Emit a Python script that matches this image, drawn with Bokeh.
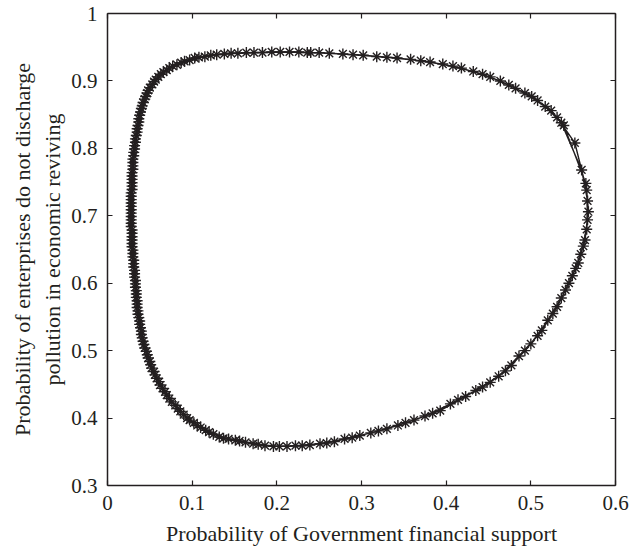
from bokeh.plotting import figure
from bokeh.models import Range1d, FixedTicker, LinearAxis, CustomJSTickFormatter
from bokeh.embed import file_html
from bokeh.resources import INLINE

# Trajectory of the two-player evolutionary game, three successive cycles
# x: probability of government financial support
# y: probability that enterprises do not discharge pollution
cycle1_gov = [0.250, 0.290, 0.330, 0.370, 0.408, 0.443, 0.474, 0.501, 0.524, 0.539,
              0.565, 0.568, 0.564, 0.556, 0.545, 0.531, 0.513, 0.493, 0.470, 0.443,
              0.414, 0.384, 0.352, 0.320, 0.289, 0.259, 0.230, 0.203, 0.178, 0.156,
              0.137, 0.120, 0.106, 0.094, 0.083, 0.073, 0.065, 0.058, 0.052, 0.048,
              0.044, 0.041, 0.039, 0.037, 0.035, 0.034, 0.033, 0.032, 0.031, 0.030,
              0.029, 0.029, 0.028, 0.028, 0.028, 0.028, 0.029, 0.029, 0.030, 0.031,
              0.032, 0.034, 0.036, 0.038, 0.041, 0.045, 0.050, 0.057, 0.066, 0.077,
              0.091, 0.108, 0.129, 0.154, 0.183, 0.215]
cycle1_ent = [0.942, 0.939, 0.935, 0.930, 0.922, 0.910, 0.894, 0.877, 0.856, 0.834,
              0.748, 0.706, 0.664, 0.630, 0.600, 0.565, 0.530, 0.500, 0.470, 0.446,
              0.427, 0.407, 0.393, 0.381, 0.371, 0.363, 0.359, 0.358, 0.361, 0.366,
              0.370, 0.379, 0.389, 0.400, 0.414, 0.429, 0.444, 0.459, 0.474, 0.489,
              0.504, 0.519, 0.534, 0.549, 0.564, 0.579, 0.594, 0.609, 0.624, 0.639,
              0.654, 0.669, 0.684, 0.699, 0.714, 0.729, 0.744, 0.759, 0.774, 0.789,
              0.804, 0.819, 0.834, 0.849, 0.863, 0.877, 0.890, 0.902, 0.913, 0.922,
              0.929, 0.935, 0.939, 0.941, 0.942, 0.943]

cycle2_gov = [0.262, 0.302, 0.342, 0.381, 0.418, 0.452, 0.482, 0.508, 0.531, 0.552,
              0.566, 0.567, 0.562, 0.553, 0.541, 0.526, 0.508, 0.486, 0.462, 0.435,
              0.405, 0.375, 0.343, 0.311, 0.280, 0.251, 0.222, 0.196, 0.172, 0.151,
              0.132, 0.116, 0.102, 0.090, 0.080, 0.070, 0.062, 0.056, 0.051, 0.047,
              0.043, 0.040, 0.038, 0.036, 0.035, 0.034, 0.033, 0.032, 0.031, 0.030,
              0.029, 0.029, 0.028, 0.028, 0.028, 0.028, 0.029, 0.029, 0.030, 0.031,
              0.033, 0.035, 0.037, 0.039, 0.042, 0.047, 0.053, 0.060, 0.070, 0.082,
              0.097, 0.115, 0.138, 0.164, 0.194, 0.226]
cycle2_ent = [0.941, 0.938, 0.934, 0.928, 0.919, 0.906, 0.889, 0.871, 0.846, 0.808,
              0.738, 0.694, 0.655, 0.622, 0.590, 0.555, 0.522, 0.492, 0.462, 0.441,
              0.421, 0.403, 0.389, 0.378, 0.369, 0.362, 0.359, 0.358, 0.362, 0.367,
              0.372, 0.382, 0.393, 0.405, 0.419, 0.434, 0.449, 0.464, 0.479, 0.494,
              0.509, 0.524, 0.539, 0.554, 0.569, 0.584, 0.599, 0.614, 0.629, 0.644,
              0.659, 0.674, 0.689, 0.704, 0.719, 0.734, 0.749, 0.764, 0.779, 0.794,
              0.809, 0.824, 0.839, 0.854, 0.868, 0.882, 0.895, 0.906, 0.916, 0.924,
              0.931, 0.936, 0.940, 0.942, 0.943, 0.943]

cycle3_gov = [0.240, 0.278, 0.318, 0.358, 0.396, 0.432, 0.464, 0.493, 0.517, 0.536,
              0.560, 0.567, 0.566, 0.559, 0.549, 0.536, 0.520, 0.500, 0.477, 0.452,
              0.423, 0.393, 0.362, 0.330, 0.298, 0.268, 0.239, 0.212, 0.186, 0.163,
              0.143, 0.125, 0.110, 0.097, 0.086, 0.076, 0.068, 0.061, 0.055, 0.050,
              0.046, 0.042, 0.040, 0.038, 0.036, 0.035, 0.034, 0.033, 0.032, 0.031,
              0.030, 0.029, 0.029, 0.028, 0.028, 0.028, 0.029, 0.029, 0.030, 0.030,
              0.032, 0.033, 0.035, 0.037, 0.040, 0.044, 0.048, 0.055, 0.063, 0.073,
              0.087, 0.103, 0.122, 0.146, 0.173, 0.204, 0.236]
cycle3_ent = [0.942, 0.940, 0.936, 0.932, 0.925, 0.914, 0.900, 0.882, 0.862, 0.838,
              0.768, 0.722, 0.680, 0.643, 0.611, 0.578, 0.545, 0.510, 0.478, 0.453,
              0.432, 0.411, 0.397, 0.384, 0.374, 0.365, 0.360, 0.358, 0.359, 0.364,
              0.369, 0.376, 0.386, 0.397, 0.410, 0.424, 0.439, 0.454, 0.469, 0.484,
              0.499, 0.514, 0.529, 0.544, 0.559, 0.574, 0.589, 0.604, 0.619, 0.634,
              0.649, 0.664, 0.679, 0.694, 0.709, 0.724, 0.739, 0.754, 0.769, 0.784,
              0.799, 0.814, 0.829, 0.844, 0.859, 0.873, 0.886, 0.899, 0.910, 0.919,
              0.927, 0.934, 0.938, 0.941, 0.942, 0.943, 0.942]

x_ticks = [0, 0.1, 0.2, 0.3, 0.4, 0.5, 0.6]
y_ticks = [0.3, 0.4, 0.5, 0.6, 0.7, 0.8, 0.9, 1.0]

gov = cycle1_gov + cycle2_gov + cycle3_gov
ent = cycle1_ent + cycle2_ent + cycle3_ent

INK = "#231f20"
FONT = "Liberation Serif"

p = figure(width=641, height=549, output_backend="svg", toolbar_location=None,
           x_range=Range1d(0, 0.6), y_range=Range1d(0.3, 1.0),
           x_axis_label="Probability of Government financial support",
           y_axis_label="Probability of enterprises do not discharge\npollution in economic reviving",
           min_border_left=107, min_border_right=26, min_border_top=13, min_border_bottom=64)
p.grid.visible = False
p.outline_line_color = None
p.background_fill_color = "white"
p.border_fill_color = "white"

p.line(gov, ent, line_color=INK, line_width=1.4)
p.scatter(gov, ent, marker="asterisk", size=11, line_color=INK, line_width=1.4)

fmt = CustomJSTickFormatter(code="return (Math.round(tick * 10) / 10).toString();")
blank = CustomJSTickFormatter(code="return '';")

def style_axis(ax, ticks, labels=True):
    ax.ticker = FixedTicker(ticks=ticks)
    ax.minor_tick_line_color = None
    ax.major_tick_in = 5
    ax.major_tick_out = 0
    ax.axis_line_color = INK
    ax.axis_line_width = 1.5
    ax.major_tick_line_color = INK
    ax.major_tick_line_width = 1.2
    if labels:
        ax.formatter = fmt
        ax.major_label_text_font = FONT
        ax.major_label_text_font_size = "21px"
        ax.major_label_text_color = INK
        ax.major_label_standoff = 10
        ax.axis_label_text_font = FONT
        ax.axis_label_text_font_size = "22px"
        ax.axis_label_text_font_style = "normal"
        ax.axis_label_text_color = INK
        ax.axis_label_standoff = 8
    else:
        ax.formatter = blank
        ax.major_label_text_font_size = "0px"
        ax.major_label_standoff = 0

style_axis(p.xaxis[0], x_ticks)
style_axis(p.yaxis[0], y_ticks)
p.yaxis[0].axis_label_standoff = 3

top_axis = LinearAxis()
right_axis = LinearAxis()
style_axis(top_axis, x_ticks, labels=False)
style_axis(right_axis, y_ticks, labels=False)
p.add_layout(top_axis, "above")
p.add_layout(right_axis, "right")

open("out.html", "w").write(file_html(p, INLINE))
